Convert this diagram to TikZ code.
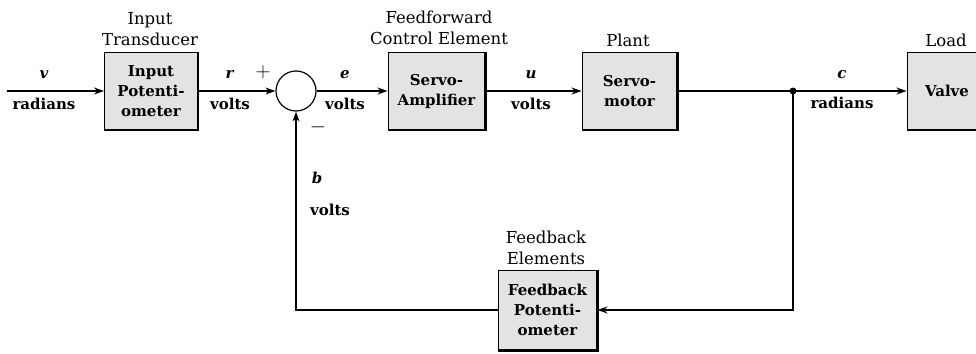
\documentclass[tikz,border=0pt]{standalone}
\usepackage{fontspec}
\setmainfont{DejaVu Serif}
\usetikzlibrary{arrows.meta}
\begin{document}
\begin{tikzpicture}[x=1pt,y=-1pt,
  >={Stealth[length=10pt,width=7pt]},
  wire/.style={line width=1.4pt},
  blk/.style={draw, line width=1pt, fill=gray!22, minimum width=#1, minimum height=77pt,
     inner sep=0pt, align=center, font=\fontsize{15}{20}\selectfont\bfseries},
  sig/.style={font=\fontsize{15}{17}\selectfont\bfseries, inner sep=0pt},
  pm/.style={font=\fontsize{22}{24}\selectfont, inner sep=0pt},
  lab/.style={font=\fontsize{16.5}{21}\selectfont, align=center, inner sep=0pt},
  sumc/.style={draw, circle, line width=1.2pt, fill=white, minimum size=40pt, inner sep=0pt}]
\useasboundingbox (0,0) rectangle (976,353);

% blocks
\node[blk=93pt] (inpot) at (151,91) {Input\\Potenti-\\ometer};
\node[sumc] (sum) at (296,91) {};
\node[blk=97pt] (amp) at (436.5,91) {Servo-\\Amplifier};
\node[blk=95pt] (motor) at (629.5,91) {Servo-\\motor};
\node[blk=80pt] (valve) at (947,91) {Valve};
\node[blk=99pt, minimum height=80pt] (fbpot) at (547.5,310) {Feedback\\Potenti-\\ometer};

\foreach \n in {inpot,amp,motor,valve,fbpot}
  \draw[line width=2.4pt] (\n.north east) -- (\n.south east) -- (\n.south west);

% coordinates
\coordinate (in) at (7,91);
\coordinate (j) at (793,91);
\coordinate (cbr) at (793,310);
\coordinate (cbl) at (296,310);

% connectors
\draw[wire,->] (in) -- (inpot.west);
\draw[wire,->] (inpot.east) -- (sum.west);
\draw[wire,->] (sum.east) -- (amp.west);
\draw[wire,->] (amp.east) -- (motor.west);
\draw[wire] (motor.east) -- (j);
\draw[wire,->] (j) -- (valve.west);
\draw[wire,->] (j) -- (cbr) -- (fbpot.east);
\draw[wire,->] (fbpot.west) -- (cbl) -- (sum.south);
\fill (j) circle (3.5pt);

% signal labels
\node[sig] (lv) at (44,75) {\textit{v}};
\node[sig] (lv2) at (44,104) {radians};
\node[sig] (lr) at (230,75) {\textit{r}};
\node[sig] (lr2) at (230,104) {volts};
\node[pm] (lp) at (263,72) {$+$};
\node[pm] (lm) at (318,127) {$-$};
\node[sig] (le) at (345,75) {\textit{e}};
\node[sig] (le2) at (345,104) {volts};
\node[sig] (lu) at (531,75) {\textit{u}};
\node[sig] (lu2) at (531,104) {volts};
\node[sig] (lc) at (842,75) {\textit{c}};
\node[sig] (lc2) at (842,103) {radians};
\node[sig] (lb) at (317,178) {\textit{b}};
\node[sig] (lb2) at (330,210) {volts};

% block titles
\node[lab] (t1) at (150,29) {Input\\Transducer};
\node[lab] (t2) at (439,27.5) {Feedforward\\Control Element};
\node[lab] (t3) at (628,40) {Plant};
\node[lab] (t4) at (946,40) {Load};
\node[lab] (t5) at (546,247.5) {Feedback\\Elements};
\end{tikzpicture}
\end{document}
